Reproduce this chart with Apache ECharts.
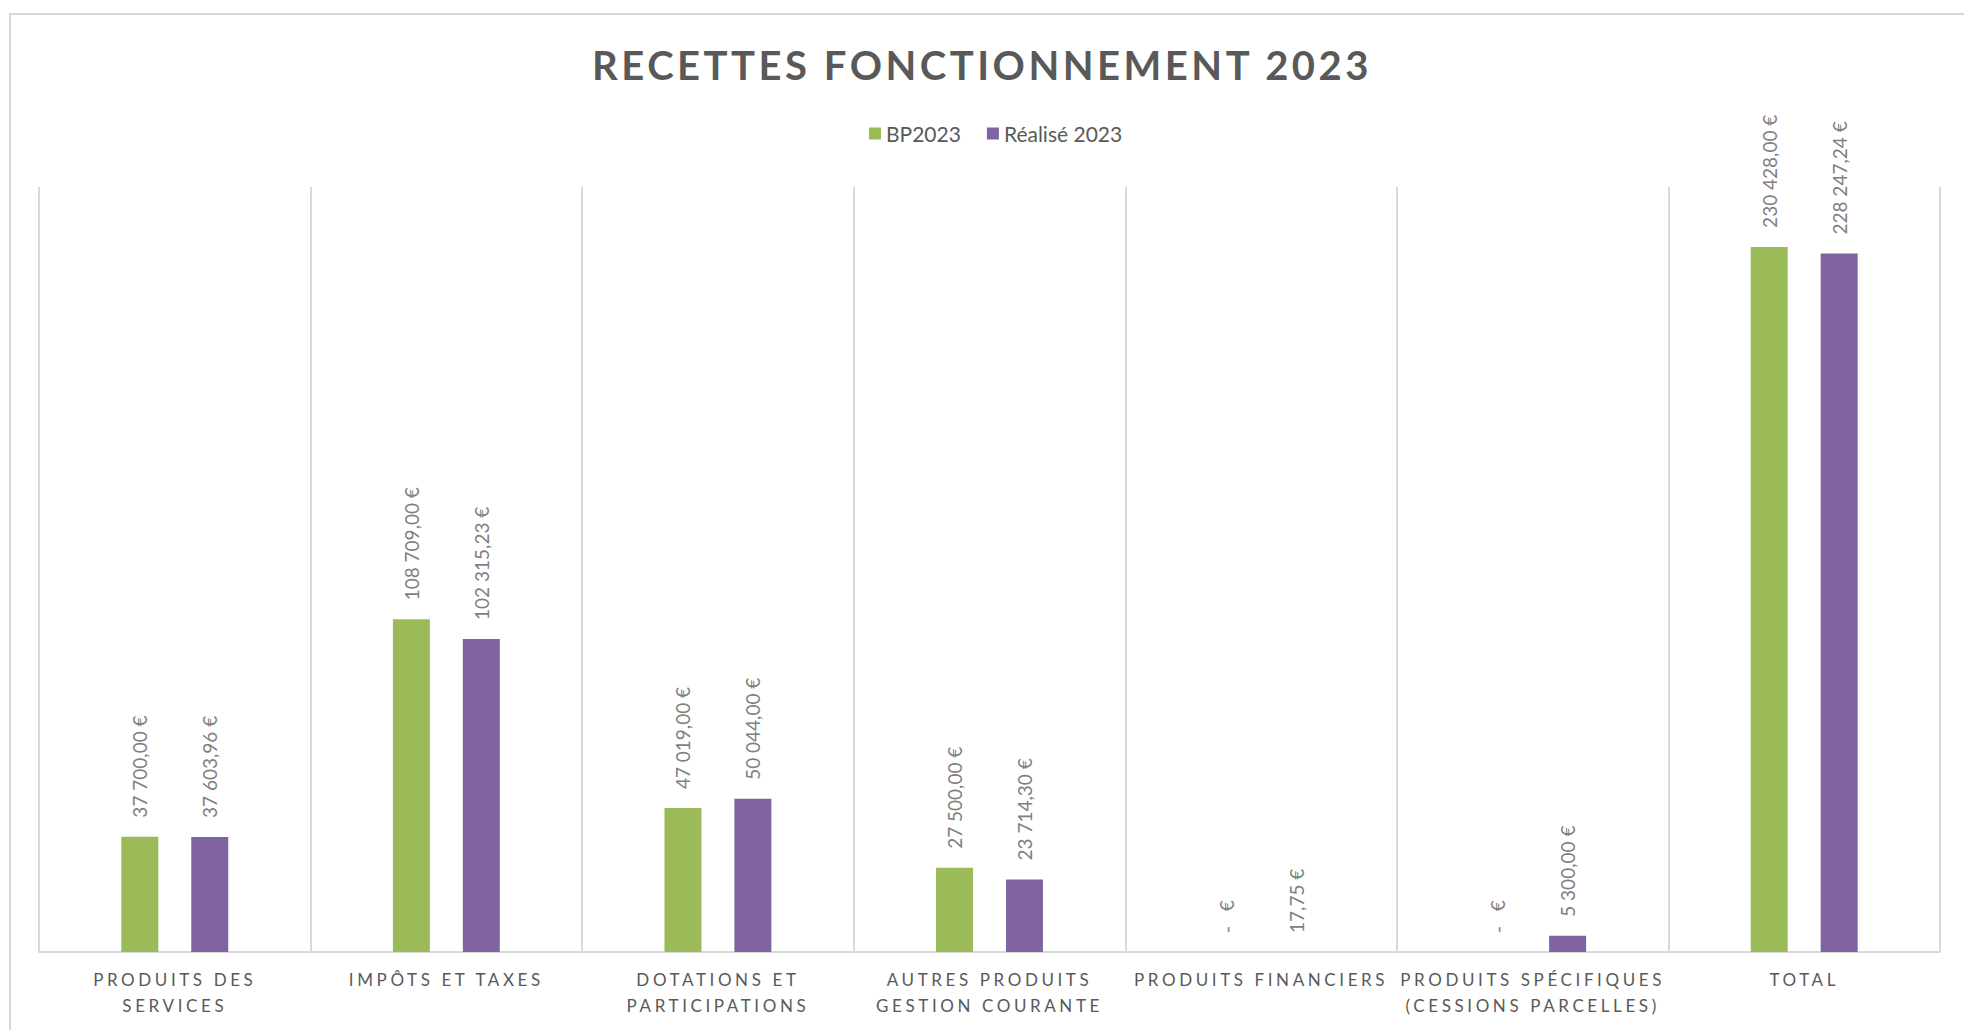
<!DOCTYPE html>
<html>
<head>
<meta charset="utf-8">
<title>Recettes fonctionnement 2023</title>
<script src="https://cdn.jsdelivr.net/npm/echarts@6/dist/echarts.min.js"></script>
<style>
  html, body { margin: 0; padding: 0; background: #fff; }
  #chart { width: 1964px; height: 1030px; }
  /* espacement des lettres façon Excel (titre + catégories) */
  #chart text[style*="17px"] { letter-spacing: 3.6px; }
  #chart text[style*="40px"] { letter-spacing: 3.5px; }
</style>
</head>
<body>
<div id="chart"></div>
<script>
// catégories
var categories = [
  'PRODUITS DES\nSERVICES',
  'IMPÔTS ET TAXES',
  'DOTATIONS ET\nPARTICIPATIONS',
  'AUTRES PRODUITS\nGESTION COURANTE',
  'PRODUITS FINANCIERS',
  'PRODUITS SPÉCIFIQUES\n(CESSIONS PARCELLES)',
  'TOTAL'
]
// budget primitif
var bp2023 = [37700, 108709, 47019, 27500, 0, 0, 230428]
// réalisé
var realise2023 = [37603.96, 102315.23, 50044, 23714.3, 17.75, 5300, 228247.24]

var FONT = 'Lato'

// format comptable français : 37 700,00 €
function euro(v) {
  if (v === 0) return '-\u00a0\u00a0\u00a0€'
  var parts = v.toFixed(2).split('.')
  var ent = parts[0].replace(/\B(?=(\d{3})+(?!\d))/g, ' ')
  return ent + ',' + parts[1] + ' €'
}

var valueLabel = {
  show: true,
  position: 'top',
  rotate: 90,
  align: 'left',
  verticalAlign: 'middle',
  distance: 19,
  color: '#7f7f7f',
  fontFamily: FONT,
  fontSize: 19,
  formatter: function (p) {
    return euro(p.value)
  }
}

var option = {
  animation: false,
  backgroundColor: '#fff',
  title: {
    text: 'RECETTES FONCTIONNEMENT 2023',
    left: 'center',
    top: 40,
    textStyle: {
      color: '#595959',
      fontFamily: FONT,
      fontWeight: 'bold',
      fontSize: 40,
      lineHeight: 40
    }
  },
  legend: {
    left: 864,
    top: 118,
    itemWidth: 12,
    itemHeight: 12,
    itemGap: 26,
    icon: 'rect',
    textStyle: {
      color: '#595959',
      fontFamily: FONT,
      fontSize: 21
    },
    data: ['BP2023', 'Réalisé 2023']
  },
  grid: {
    left: 39,
    right: 24,
    top: 187,
    bottom: 78,
    containLabel: false
  },
  graphic: [
    {
      type: 'rect',
      shape: { x: 10, y: 14, width: 2000, height: 1100 },
      style: { fill: 'none', stroke: '#d9d9d9', lineWidth: 2 },
      silent: true
    }
  ],
  xAxis: {
    type: 'category',
    data: categories,
    axisLine: { show: true, lineStyle: { color: '#d9d9d9', width: 2 } },
    axisTick: { show: false },
    splitLine: {
      show: true,
      showMinLine: true,
      showMaxLine: true,
      lineStyle: { color: '#d9d9d9', width: 2 }
    },
    axisLabel: {
      interval: 0,
      margin: 14,
      color: '#595959',
      fontFamily: FONT,
      fontSize: 17,
      lineHeight: 26
    }
  },
  yAxis: {
    type: 'value',
    min: 0,
    max: 250000,
    show: false,
    splitLine: { show: false }
  },
  series: [
    {
      name: 'BP2023',
      type: 'bar',
      data: bp2023,
      barWidth: 37,
      barGap: '89%',
      itemStyle: { color: '#9bbb59' },
      label: valueLabel
    },
    {
      name: 'Réalisé 2023',
      type: 'bar',
      data: realise2023,
      barWidth: 37,
      barGap: '89%',
      itemStyle: { color: '#8064a2' },
      label: valueLabel
    }
  ]
}

var myChart = echarts.init(document.getElementById('chart'), null, { renderer: 'svg' })
myChart.setOption(option)
window.addEventListener('resize', function () {
  myChart.resize()
})
</script>
</body>
</html>
